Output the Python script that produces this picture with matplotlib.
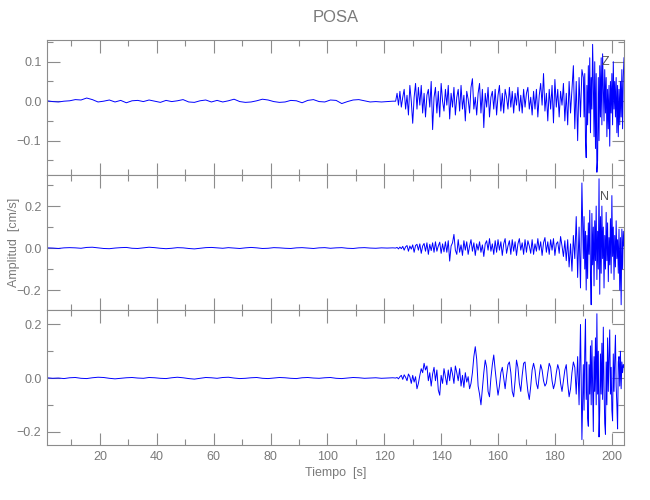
import numpy as np
import matplotlib
matplotlib.use('Agg')
import matplotlib.pyplot as plt
from matplotlib.ticker import MultipleLocator, FuncFormatter

plt.rcParams['font.family'] = ['Liberation Sans', 'DejaVu Sans']

# componente Z (cm/s): tramo tranquilo, fase P/S y fase fuerte
z_quiet = [0.001, -0.001, -0.002, 0.000, 0.001, 0.004, 0.003, 0.008, 0.004, -0.002,
           0.000, 0.003, -0.002, 0.002, -0.004, 0.001, 0.002, -0.001, 0.003, 0.000,
           -0.003, 0.002, -0.001, 0.001, 0.004, -0.002, -0.003, 0.001, 0.003, -0.002,
           0.002, -0.002, 0.001, 0.005, -0.001, -0.003, -0.002, 0.001, 0.005, 0.003,
           -0.001, -0.003, -0.002, 0.002, 0.001, -0.004, 0.002, 0.004, -0.001, -0.002,
           0.003, 0.002, -0.006, -0.001, 0.003, 0.004, 0.001, -0.002, -0.001, -0.002,
           -0.001, 0.000]
z_mid = [0.000, 0.020, -0.010, 0.025, -0.015, 0.010, 0.030, -0.020, 0.015, -0.035, 0.040, 0.000,
         -0.056, 0.010, 0.045, -0.020, 0.035, -0.010, 0.040, -0.030, 0.020, -0.040, 0.015, 0.030,
         -0.015, 0.050, -0.072, 0.010, 0.035, -0.030, 0.025, -0.040, 0.045, 0.000, -0.025, 0.030,
         -0.010, 0.040, -0.045, 0.020, -0.015, 0.035, -0.035, 0.010, 0.030, -0.025, 0.040, -0.020,
         0.015, -0.050, 0.025, 0.005, -0.030, 0.035, 0.057, -0.020, 0.010, -0.035, 0.020, 0.045,
         -0.030, 0.030, -0.067, 0.020, -0.015, 0.035, -0.040, 0.010, 0.025, -0.020, 0.030, -0.035,
         0.015, 0.040, -0.025, 0.020, -0.030, 0.030, 0.010, -0.020, 0.035, -0.015, 0.025, -0.030,
         0.020, -0.010, 0.035, -0.025, 0.015, -0.030, 0.030, -0.015, 0.020, 0.035, -0.020, 0.010,
         -0.035, 0.025, -0.020, 0.030, -0.040, 0.015, 0.045, -0.010, 0.070, -0.025, 0.020, -0.050,
         0.030, -0.020, 0.040, -0.055, 0.055, -0.015, 0.030, -0.040, 0.025, -0.010, 0.045, -0.050,
         0.020, -0.060, 0.050, -0.030, 0.030, 0.090, -0.070, 0.050, -0.100, 0.060, -0.040, 0.080]
z_strong = [0.060, -0.040, 0.070, -0.100, -0.143, 0.040, -0.060, 0.090,
            -0.030, 0.110, -0.080, 0.060, -0.020, 0.144, 0.050, -0.090,
            0.100, -0.120, 0.070, -0.180, -0.150, 0.060, -0.100, 0.090,
            -0.040, 0.110, -0.060, 0.120, 0.040, -0.050, 0.080, -0.030,
            0.060, -0.090, 0.030, -0.070, 0.040, -0.114, 0.050, -0.030,
            0.070, -0.060, 0.100, -0.020, 0.050, -0.040, 0.060, -0.080,
            0.040, -0.090, 0.030, -0.060, 0.050, -0.040, 0.080, -0.070,
            0.060, 0.110]

# componente N
n_quiet = [0.001, 0.000, -0.002, 0.001, 0.002, 0.001, -0.001, 0.003, 0.004, 0.001,
           -0.002, -0.003, 0.000, 0.002, 0.003, -0.001, -0.002, 0.001, 0.004, 0.002,
           -0.001, -0.003, -0.001, 0.002, 0.001, -0.002, -0.004, -0.001, 0.002, 0.003,
           0.001, -0.001, 0.002, 0.000, -0.002, 0.001, 0.003, 0.001, -0.002, -0.001,
           0.002, 0.001, -0.001, -0.002, 0.001, 0.002, 0.000, -0.002, 0.001, 0.002,
           -0.001, 0.001, 0.002, -0.001, -0.002, 0.001, 0.002, 0.000, -0.001, 0.001,
           0.000, 0.001]
n_mid = [0.000, 0.003, -0.004, 0.005, -0.003, 0.008, -0.010, 0.006, 0.012, -0.015, 0.010, -0.005,
         0.015, -0.020, 0.012, 0.018, -0.010, 0.020, -0.025, 0.010, 0.022, -0.015, 0.025, -0.030,
         0.018, -0.012, 0.025, -0.020, 0.030, -0.015, 0.010, 0.028, -0.025, 0.020, -0.018, 0.030,
         -0.020, 0.035, -0.062, 0.010, 0.025, 0.065, -0.010, -0.030, 0.040, -0.020, 0.015, -0.035,
         0.035, -0.010, 0.030, -0.030, 0.010, 0.040, -0.015, 0.025, -0.035, 0.020, -0.010, 0.030,
         -0.020, 0.015, -0.040, 0.020, 0.035, -0.010, 0.045, -0.015, 0.020, -0.030, 0.035, -0.020,
         0.040, -0.010, 0.030, -0.035, 0.020, 0.045, -0.025, 0.010, 0.035, -0.030, 0.040, -0.015,
         0.030, -0.035, 0.020, 0.045, -0.010, 0.025, -0.030, 0.040, -0.020, 0.035, 0.010, -0.025,
         0.040, -0.030, 0.020, -0.015, 0.045, -0.010, 0.030, -0.035, 0.025, 0.050, -0.020, 0.030,
         -0.030, 0.040, -0.010, 0.045, -0.035, 0.020, 0.030, -0.025, 0.055, 0.010, -0.040, 0.035,
         -0.060, 0.040, -0.090, 0.020, -0.110, 0.060, -0.050, 0.150, -0.140, 0.100, -0.190, 0.310]
n_strong = [-0.050, 0.150, -0.100, 0.080, -0.200, 0.060, -0.145, 0.120,
            -0.030, 0.180, -0.120, -0.270, 0.165, -0.080, 0.100, -0.180,
            0.130, -0.060, 0.200, -0.150, 0.080, -0.100, 0.330, -0.220,
            0.150, -0.120, 0.200, -0.050, 0.100, -0.190, 0.060, -0.100,
            0.170, -0.060, 0.120, -0.160, 0.050, -0.080, 0.140, -0.120,
            0.250, -0.040, 0.100, -0.150, 0.060, -0.090, 0.130, -0.050,
            0.040, -0.120, 0.090, -0.200, 0.050, -0.270, 0.090, -0.100,
            0.080, 0.010]

# componente E
e_quiet = [0.001, -0.001, 0.000, -0.002, 0.001, 0.002, -0.001, -0.002, 0.001, 0.003,
           0.002, -0.001, -0.003, -0.001, 0.001, 0.002, 0.000, -0.001, 0.002, 0.001,
           -0.001, -0.002, 0.001, 0.003, 0.001, -0.002, -0.004, -0.001, 0.002, 0.001,
           -0.001, 0.002, 0.003, 0.000, -0.002, -0.001, 0.001, 0.002, -0.001, -0.002,
           0.000, 0.002, 0.001, -0.001, -0.002, 0.001, 0.002, 0.000, -0.001, 0.001,
           0.002, -0.001, -0.002, 0.000, 0.002, 0.001, -0.001, 0.000, 0.001, -0.001,
           0.000, 0.001]
e_mid = [0.000, 0.002, -0.003, 0.005, 0.010, -0.005, 0.012, 0.003, -0.010, 0.015, 0.005, -0.020,
         0.010, -0.015, 0.005, -0.040, -0.020, 0.010, 0.035, 0.020, 0.055, 0.030, 0.045, -0.010,
         0.020, -0.030, 0.015, 0.040, -0.010, 0.030, -0.045, -0.064, 0.010, -0.020, 0.035, 0.005,
         -0.025, 0.030, -0.010, 0.040, 0.015, -0.020, 0.045, 0.020, -0.010, 0.035, -0.030, 0.010,
         -0.035, 0.020, -0.015, 0.005, -0.040, -0.020, 0.020, 0.080, 0.117, 0.070, -0.030, -0.060,
         -0.100, -0.040, 0.020, 0.067, 0.040, -0.050, -0.070, 0.000, 0.050, 0.086, 0.030, -0.020,
         -0.064, -0.030, 0.020, 0.040, 0.000, -0.040, 0.010, 0.050, 0.060, 0.020, -0.050, -0.070,
         -0.010, 0.067, 0.040, -0.020, -0.050, 0.010, 0.055, 0.060, 0.000, -0.050, -0.080, -0.030,
         0.030, 0.055, 0.030, -0.020, -0.040, 0.010, 0.050, 0.030, -0.010, -0.030, -0.020, 0.020,
         0.055, 0.040, -0.010, -0.040, -0.020, 0.020, 0.050, 0.030, -0.020, -0.050, -0.010, 0.030,
         0.050, -0.020, -0.070, -0.040, 0.020, 0.060, 0.040, -0.060, 0.080, -0.100, 0.200, -0.230]
e_strong = [0.050, -0.120, 0.100, 0.220, -0.080, 0.060, -0.150, -0.180,
            0.050, -0.060, 0.120, -0.100, 0.140, -0.040, -0.200, 0.080,
            -0.050, 0.150, -0.100, 0.240, -0.060, 0.100, -0.220, -0.120,
            0.090, -0.060, 0.130, -0.080, 0.190, -0.030, -0.170, -0.210,
            0.060, -0.100, 0.150, -0.050, 0.080, 0.180, -0.060, 0.040,
            -0.120, -0.160, 0.090, -0.050, 0.070, 0.160, -0.030, -0.100,
            -0.190, 0.060, 0.080, -0.030, 0.100, -0.040, 0.060, 0.020,
            0.050, 0.040]

labels = ['Z', 'N', '']
ylims = [(-0.187, 0.155), (-0.295, 0.348), (-0.250, 0.254)]
yticks = [([-0.1, 0.0, 0.1], 0.05), ([-0.2, 0.0, 0.2], 0.1), ([-0.2, 0.0, 0.2], 0.1)]


def serie(q, m, s):
    t = np.concatenate([np.linspace(1.4, 123.0, len(q)),
                        np.linspace(124.0, 189.5, len(m)),
                        np.linspace(190.0, 204.3, len(s))])
    return t, np.array(q + m + s)


trazas = [serie(z_quiet, z_mid, z_strong),
          serie(n_quiet, n_mid, n_strong),
          serie(e_quiet, e_mid, e_strong)]

fmt = FuncFormatter(lambda v, p: ('%.1f' % v).replace('-', '\u2212'))

gris = '#8c8c8c'
texto = '#7a7a7a'
fig = plt.figure(figsize=(6.5, 5), dpi=100)
bottoms = [0.65, 0.38, 0.11]
axes = []
for i in range(3):
    ax = fig.add_axes([0.0723, bottoms[i], 0.8877, 0.27])
    t, v = trazas[i]
    ax.plot(t, v, color='#0000ff', lw=0.7)
    ax.set_xlim(1.4, 204.3)
    ax.set_ylim(*ylims[i])
    ax.set_xticks(np.arange(20, 201, 20))
    ax.xaxis.set_minor_locator(MultipleLocator(10))
    ax.set_yticks(yticks[i][0])
    ax.yaxis.set_minor_locator(MultipleLocator(yticks[i][1]))
    ax.yaxis.set_major_formatter(fmt)
    ax.tick_params(which='both', direction='in', top=True, right=True,
                   color=gris, labelcolor=texto, labelsize=9, width=0.8)
    ax.tick_params(which='major', length=9, pad=4)
    ax.tick_params(which='minor', length=4.5)
    for sp in ax.spines.values():
        sp.set_color(gris)
        sp.set_linewidth(0.8)
    if i < 2:
        ax.tick_params(labelbottom=False)
    if labels[i]:
        ax.text(0.967, 0.84, labels[i], transform=ax.transAxes, ha='center',
                va='center', color='#555555', fontsize=9)
    axes.append(ax)

axes[0].set_title('POSA', color=texto, fontsize=12, pad=13)
fig.text(0.021, 0.515, 'Amplitud  [cm/s]', rotation=90, ha='center', va='center',
         color=texto, fontsize=9)
axes[2].set_xlabel('Tiempo  [s]', color=texto, fontsize=9, labelpad=3)

fig.savefig('out.png', dpi=100)
